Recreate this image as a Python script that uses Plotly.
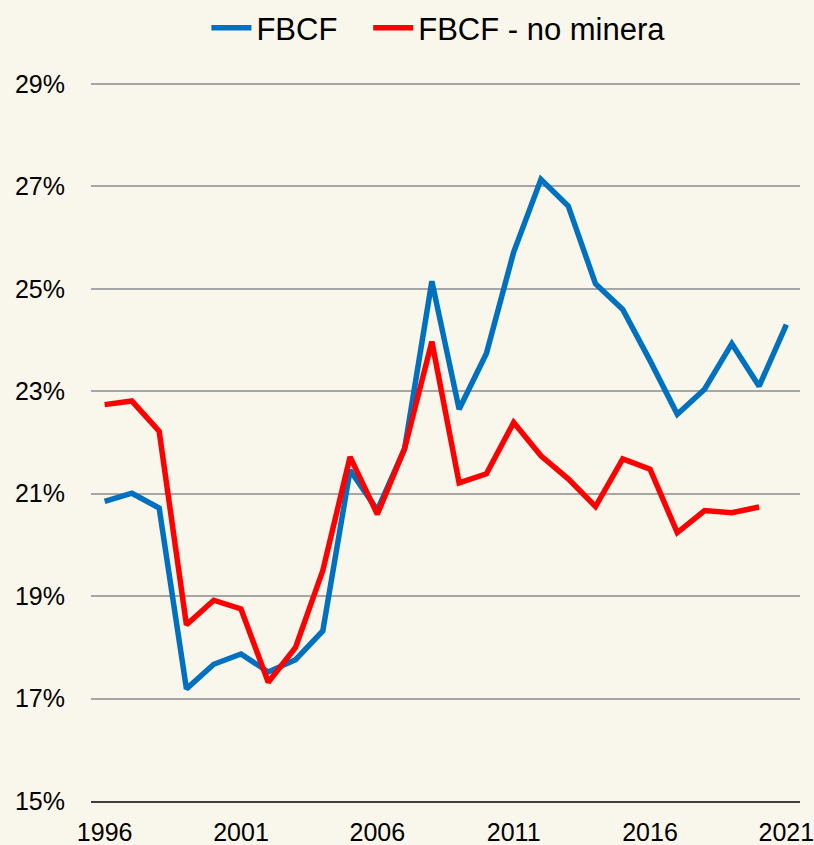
import plotly.graph_objects as go

years = list(range(1996, 2022))
fbcf = [20.85, 21.01, 20.72, 17.19, 17.67, 17.87, 17.52, 17.76, 18.32, 21.46, 20.68, 21.88,
        25.15, 22.65, 23.74, 25.72, 27.14, 26.62, 25.10, 24.60, 23.60, 22.55, 23.04, 23.93,
        23.10, 24.30]
fbcf_nomin = [22.74, 22.81, 22.22, 18.44, 18.92, 18.75, 17.32, 18.0, 19.5, 21.72, 20.6, 21.88,
              23.97, 21.21, 21.39, 22.39, 21.74, 21.29, 20.75, 21.68, 21.48, 20.24, 20.67, 20.63,
              20.74]
y_ticks = [15, 17, 19, 21, 23, 25, 27, 29]
y_labels = [f"{v}%" for v in y_ticks]
x_ticks = [1996, 2001, 2006, 2011, 2016, 2021]

bg = "#f9f7eb"
fig = go.Figure()
fig.add_trace(go.Scatter(x=years, y=fbcf, mode="lines", name="FBCF\u00a0\u00a0\u00a0",
                         line=dict(color="#0070c0", width=5.5)))
fig.add_trace(go.Scatter(x=years[:len(fbcf_nomin)], y=fbcf_nomin, mode="lines",
                         name="FBCF - no minera", line=dict(color="#ff0000", width=5.5)))

fig.update_layout(
    width=814, height=845,
    paper_bgcolor=bg, plot_bgcolor=bg,
    margin=dict(l=91, r=14, t=82, b=44, autoexpand=False),
    font=dict(family="Liberation Sans, Arial, sans-serif", color="#000000", size=25),
    showlegend=True,
    legend=dict(orientation="h", x=0.49, xanchor="center", y=1 - 28 / 845, yanchor="middle",
                yref="container", font=dict(size=31), bgcolor="rgba(0,0,0,0)",
                itemwidth=40),
    xaxis=dict(range=[1995.5, 2021.5], tickmode="array", tickvals=x_ticks,
               ticktext=[str(v) for v in x_ticks], showgrid=False, zeroline=False,
               showline=True, linecolor="#404040", linewidth=2, automargin=False,
               ticks="outside", ticklen=8, tickcolor="rgba(0,0,0,0)",
               ticklabeloverflow="allow", tickfont=dict(size=25)),
    yaxis=dict(range=[15, 29.04], tickmode="array", tickvals=y_ticks, ticktext=y_labels,
               showgrid=True, gridcolor="#a6a6a6", gridwidth=2, zeroline=False,
               showline=False, ticks="outside", ticklen=20, automargin=False,
               tickcolor="rgba(0,0,0,0)", tickfont=dict(size=25)),
)
fig.write_html("out.html", config={"displayModeBar": False},
               post_script="document.body.style.margin='0';document.body.style.overflow='hidden';")
